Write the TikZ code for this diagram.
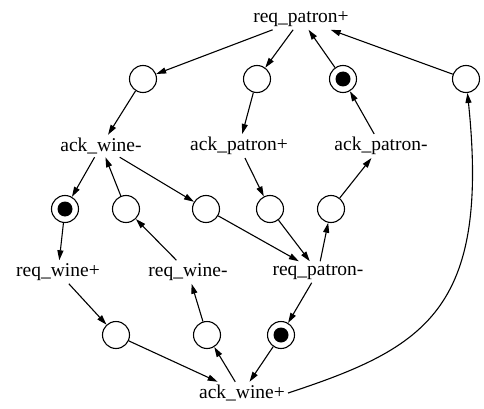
\documentclass[tikz,border=0pt]{standalone}
\usepackage{fontspec}
\setmainfont{Liberation Serif}
\usetikzlibrary{arrows.meta}
\begin{document}
\begin{tikzpicture}[x=1pt,y=-1pt,
  trans/.style={inner sep=3pt,font=\fontsize{19.5}{22}\selectfont},
  place/.style={circle,draw,line width=1.1pt,minimum size=27pt,inner sep=0pt},
  marked/.style={place,path picture={\fill (path picture bounding box.center) circle (7.5pt);}},
  arc/.style={line width=1.1pt,-{Triangle[length=10pt,width=6pt]}}]
\useasboundingbox (0,0) rectangle (484,409);
% transitions
\node[trans] (rpp) at (301,19) {req\_patron+};
\node[trans] (awm) at (101,146) {ack\_wine-};
\node[trans] (app) at (239,146) {ack\_patron+};
\node[trans] (apm) at (381,146) {ack\_patron-};
\node[trans] (rwp) at (58,272) {req\_wine+};
\node[trans] (rwm) at (188,272) {req\_wine-};
\node[trans] (rpm) at (318,272) {req\_patron-};
\node[trans] (awp) at (242,393) {ack\_wine+};
% places
\node[place]  (p1) at (143,79) {};
\node[place]  (p2) at (257,79) {};
\node[marked] (p3) at (343,79) {};
\node[place]  (p4) at (466,79) {};
\node[marked] (p5) at (65,209) {};
\node[place]  (p6) at (126,209) {};
\node[place]  (p7) at (206,209) {};
\node[place]  (p8) at (270,209) {};
\node[place]  (p9) at (331,209) {};
\node[place]  (p10) at (116,335) {};
\node[place]  (p11) at (207,335) {};
\node[marked] (p12) at (281,335) {};
% arcs
\draw[arc] (rpp) -- (p1);
\draw[arc] (rpp) -- (p2);
\draw[arc] (p3) -- (rpp);
\draw[arc] (p4) -- (rpp);
\draw[arc] (apm) -- (p3);
\draw[arc] (p1) -- (awm);
\draw[arc] (p2) -- (app);
\draw[arc] (awm) -- (p5);
\draw[arc] (p5) -- (rwp);
\draw[arc] (p6) -- (awm);
\draw[arc] (rwm) -- (p6);
\draw[arc] (awm) -- (p7);
\draw[arc] (p7) -- (rpm);
\draw[arc] (app) -- (p8);
\draw[arc] (p8) -- (rpm);
\draw[arc] (rpm) -- (p9);
\draw[arc] (p9) -- (apm);
\draw[arc] (rwp) -- (p10);
\draw[arc] (p10) -- (awp);
\draw[arc] (awp) -- (p11);
\draw[arc] (p11) -- (rwm);
\draw[arc] (rpm) -- (p12);
\draw[arc] (p12) -- (awp);
\draw[arc] (awp.east) .. controls (425,348) and (490,310) .. (p4);
\end{tikzpicture}
\end{document}
